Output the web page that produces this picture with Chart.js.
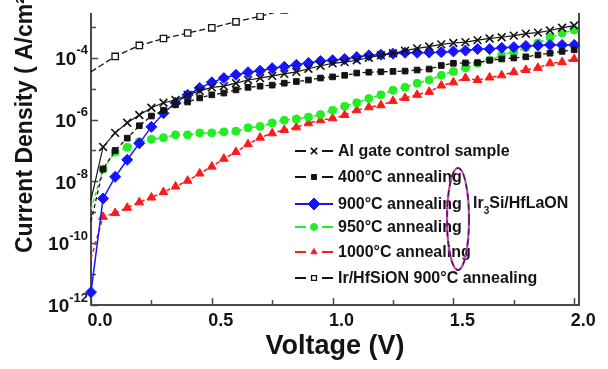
<!DOCTYPE html>
<html>
<head>
<meta charset="utf-8">
<title>Current density vs voltage</title>
<script src="https://cdn.jsdelivr.net/npm/chart.js@4.4.1/dist/chart.umd.min.js"></script>
<style>
  html, body { margin: 0; padding: 0; background: #fff; }
  #wrap { width: 608px; height: 369px; }
</style>
</head>
<body>
<div id="wrap"><canvas id="jv" width="608" height="369"></canvas></div>
<script>
// ─── Data (J in A/cm², V in volts) ──────────────────────────

const voltage = [
  0, 0.05, 0.1, 0.15, 0.2, 0.25, 0.3, 0.35, 0.4, 0.45,
  0.5, 0.55, 0.6, 0.65, 0.7, 0.75, 0.8, 0.85, 0.9, 0.95,
  1.0, 1.05, 1.1, 1.15, 1.2, 1.25, 1.3, 1.35, 1.4, 1.45,
  1.5, 1.55, 1.6, 1.65, 1.7, 1.75, 1.8, 1.85, 1.9, 1.95, 2.0,
];
const voltageIr = [0, 0.1, 0.2, 0.3, 0.4, 0.5, 0.6, 0.7, 0.8, 0.9];

const alGate = [
  2.5e-9, 1.3e-7, 3.7e-7, 7.9e-7, 1.4e-6, 2.4e-6, 3.5e-6, 4.3e-6, 6.3e-6, 8.5e-6,
  1.1e-5, 1.2e-5, 1.5e-5, 1.9e-5, 2.2e-5, 2.6e-5, 3.0e-5, 3.5e-5, 4.4e-5, 5.5e-5,
  6.6e-5, 7.2e-5, 8.3e-5, 1.0e-4, 1.2e-4, 1.4e-4, 1.7e-4, 2.0e-4, 2.3e-4, 2.7e-4,
  3.0e-4, 3.2e-4, 3.7e-4, 4.2e-4, 4.6e-4, 5.2e-4, 6.0e-4, 6.5e-4, 7.6e-4, 9.3e-4, 1.1e-3,
];
const anneal400 = [
  5.0e-10, 2.5e-8, 1.0e-7, 2.5e-7, 6.3e-7, 1.3e-6, 2.0e-6, 3.0e-6, 3.7e-6, 5.0e-6,
  6.3e-6, 7.2e-6, 9.1e-6, 1.1e-5, 1.2e-5, 1.3e-5, 1.5e-5, 1.7e-5, 1.9e-5, 2.2e-5,
  2.4e-5, 2.7e-5, 3.2e-5, 3.4e-5, 3.5e-5, 3.6e-5, 3.7e-5, 4.0e-5, 4.3e-5, 5.6e-5,
  6.6e-5, 6.8e-5, 6.9e-5, 8.3e-5, 9.1e-5, 9.8e-5, 1.07e-4, 1.23e-4, 1.4e-4, 1.6e-4, 1.8e-4,
];
const anneal900 = [
  2.6e-12, 2.8e-9, 1.4e-8, 5.0e-8, 1.7e-7, 5.8e-7, 1.6e-6, 3.5e-6, 6.3e-6, 1.05e-5,
  1.6e-5, 2.2e-5, 2.8e-5, 3.4e-5, 3.8e-5, 4.6e-5, 5.1e-5, 5.9e-5, 6.8e-5, 7.8e-5,
  8.3e-5, 9.1e-5, 1.05e-4, 1.2e-4, 1.26e-4, 1.35e-4, 1.45e-4, 1.45e-4, 1.48e-4, 1.5e-4,
  1.6e-4, 1.7e-4, 1.9e-4, 1.9e-4, 2.1e-4, 2.2e-4, 2.4e-4, 2.5e-4, 2.6e-4, 2.6e-4, 2.6e-4,
];
const anneal950 = [
  1.26e-9, 2.5e-8, 8.9e-8, 1.26e-7, 1.9e-7, 2.3e-7, 2.6e-7, 3.2e-7, 3.2e-7, 3.7e-7,
  3.7e-7, 4.0e-7, 4.2e-7, 5.4e-7, 6.0e-7, 7.8e-7, 9.5e-7, 1.05e-6, 1.2e-6, 1.45e-6,
  2.0e-6, 2.7e-6, 3.5e-6, 4.8e-6, 6.3e-6, 8.9e-6, 1.1e-5, 1.5e-5, 1.9e-5, 2.7e-5,
  3.6e-5, 4.7e-5, 6.6e-5, 8.5e-5, 1.2e-4, 1.55e-4, 2.1e-4, 3.0e-4, 4.5e-4, 6.3e-4, 7.9e-4,
];
const anneal1000 = [
  3.2e-11, 7.1e-10, 9.5e-10, 1.4e-9, 2.1e-9, 3.0e-9, 4.5e-9, 6.8e-9, 1.05e-8, 1.8e-8,
  3.0e-8, 5.4e-8, 8.9e-8, 1.6e-7, 2.6e-7, 3.6e-7, 4.6e-7, 5.6e-7, 7.6e-7, 9.5e-7,
  1.1e-6, 1.4e-6, 2.0e-6, 2.5e-6, 2.9e-6, 4.0e-6, 5.0e-6, 6.3e-6, 7.9e-6, 1.26e-5,
  1.6e-5, 2.2e-5, 1.9e-5, 2.3e-5, 2.7e-5, 3.4e-5, 4.0e-5, 4.7e-5, 6.6e-5, 7.2e-5, 9.1e-5,
];
const irHfSiON = [3.5e-5, 1.1e-4, 2.5e-4, 4.2e-4, 6.3e-4, 9.3e-4, 1.45e-3, 2.2e-3, 3.5e-3, 5.0e-3];

// Axis ticks
const xTicks = [0, 0.5, 1.0, 1.5, 2.0];
const xMinorTicks = [0.25, 0.75, 1.25, 1.75];
const yTicks = [1e-12, 1e-10, 1e-8, 1e-6, 1e-4];
const yTickExponents = ['-12', '-10', '-8', '-6', '-4'];
const yMinorTicks = [1e-11, 1e-9, 1e-7, 1e-5, 1e-3];

// ─── Styles ─────────────────────────────────────────────────

const FONT = '"Liberation Sans", Arial, Helvetica, sans-serif';
const BLUE = '#1414ff';
const GREEN = '#22ee22';
const RED = '#ff1a1a';
const INK = '#141414';

function series(xs, ys) {
  return xs.map((v, i) => ({ x: v, y: ys[i] }));
}

// marker hidden on the 0 V point, where the traces pile up on the axis
function hideFirst(r) {
  return ctx => (ctx.dataIndex === 0 ? 0 : r);
}

const datasets = [
  {
    label: 'Al gate control sample',
    data: series(voltage, alGate),
    borderColor: INK, borderWidth: 1.2,
    pointStyle: 'crossRot', pointRadius: hideFirst(5.5), pointBorderWidth: 1.6,
    pointBorderColor: INK, pointBackgroundColor: INK,
  },
  {
    label: '400°C annealing',
    data: series(voltage, anneal400),
    borderColor: INK, borderWidth: 1.3, borderDash: [4, 3],
    pointStyle: 'rect', pointRadius: hideFirst(4), pointBorderWidth: 1,
    pointBorderColor: INK, pointBackgroundColor: INK,
  },
  {
    label: '900°C annealing',
    data: series(voltage, anneal900),
    borderColor: BLUE, borderWidth: 1.5,
    pointStyle: 'rectRot', pointRadius: 5.5, pointBorderWidth: 1,
    pointBorderColor: BLUE, pointBackgroundColor: BLUE,
  },
  {
    label: '950°C annealing',
    data: series(voltage, anneal950),
    borderColor: GREEN, borderWidth: 1.5, borderDash: [4, 3],
    pointStyle: 'circle', pointRadius: hideFirst(4), pointBorderWidth: 1,
    pointBorderColor: GREEN, pointBackgroundColor: GREEN,
  },
  {
    label: '1000°C annealing',
    data: series(voltage, anneal1000),
    borderColor: RED, borderWidth: 1.5, borderDash: [4, 3],
    pointStyle: 'triangle', pointRadius: hideFirst(5), pointBorderWidth: 1,
    pointBorderColor: RED, pointBackgroundColor: RED,
  },
  {
    label: 'Ir/HfSiON 900°C annealing',
    data: series(voltageIr, irHfSiON),
    borderColor: INK, borderWidth: 1.3, borderDash: [6, 3],
    pointStyle: 'rect', pointRadius: hideFirst(4.5), pointBorderWidth: 1.3,
    pointBorderColor: INK, pointBackgroundColor: '#ffffff',
    clip: { left: 12, top: 0, right: 12, bottom: 12 },
  },
];
datasets.forEach(d => {
  d.tension = 0;
  if (!d.clip) d.clip = false;
});

// ─── Frame, ticks and labels ────────────────────────────────

const framePlugin = {
  id: 'frame',
  beforeDatasetsDraw(chart) {
    const { ctx, chartArea: a, scales: { x, y } } = chart;
    ctx.save();
    ctx.strokeStyle = '#4a4a4a';
    ctx.lineWidth = 2;
    ctx.beginPath();
    ctx.moveTo(a.left, a.top);
    ctx.lineTo(a.left, a.bottom);
    ctx.lineTo(a.right, a.bottom);
    ctx.lineTo(a.right, a.top);
    ctx.stroke();

    ctx.lineWidth = 1.5;
    ctx.beginPath();
    xTicks.forEach(v => {
      const px = Math.round(x.getPixelForValue(v)) + 0.5;
      ctx.moveTo(px, a.bottom); ctx.lineTo(px, a.bottom - 7);
    });
    xMinorTicks.forEach(v => {
      const px = Math.round(x.getPixelForValue(v)) + 0.5;
      ctx.moveTo(px, a.bottom); ctx.lineTo(px, a.bottom - 5);
    });
    yTicks.forEach(v => {
      const py = Math.round(y.getPixelForValue(v)) + 0.5;
      ctx.moveTo(a.left, py); ctx.lineTo(a.left + 7, py);
    });
    yMinorTicks.forEach(v => {
      const py = Math.round(y.getPixelForValue(v)) + 0.5;
      ctx.moveTo(a.left, py); ctx.lineTo(a.left + 5, py);
    });
    ctx.stroke();
    ctx.restore();
  },
  afterDraw(chart) {
    const { ctx, chartArea: a, scales: { y } } = chart;
    ctx.save();
    ctx.fillStyle = INK;

    // y tick labels as 10 with a raised exponent
    ctx.textAlign = 'right';
    ctx.textBaseline = 'middle';
    yTicks.forEach((v, i) => {
      const py = y.getPixelForValue(v);
      const right = a.left - 3;
      ctx.font = `bold 13px ${FONT}`;
      const ew = ctx.measureText(yTickExponents[i]).width;
      ctx.fillText(yTickExponents[i], right, py - 7);
      ctx.font = `bold 19px ${FONT}`;
      ctx.fillText('10', right - ew, py + 2);
    });

    // axis titles
    ctx.font = `bold 27px ${FONT}`;
    ctx.textAlign = 'center';
    ctx.fillText('Voltage (V)', 335, 347);

    ctx.save();
    ctx.translate(26, 253);
    ctx.rotate(-Math.PI / 2);
    ctx.textAlign = 'left';
    ctx.font = `bold 23px ${FONT}`;
    ctx.fillText('Current Density ( A/cm²)', 0, 0);
    ctx.restore();

    drawLegend(chart);
    ctx.restore();
  },
};

// ─── Legend ─────────────────────────────────────────────────

const legendRows = [151, 177, 204, 227, 252, 278];

function drawLegend(chart) {
  const { ctx } = chart;
  const x0 = 295, x1 = 333, xm = 314;
  chart.data.datasets.forEach((d, i) => {
    const y = legendRows[i];
    ctx.save();
    ctx.strokeStyle = d.borderColor;
    ctx.lineWidth = 1.8;
    ctx.beginPath();
    if (d.borderColor === BLUE) {
      ctx.moveTo(x0, y); ctx.lineTo(x1, y);
    } else {
      ctx.moveTo(x0, y); ctx.lineTo(x0 + 11, y);
      ctx.moveTo(x1 - 11, y); ctx.lineTo(x1, y);
    }
    ctx.stroke();
    ctx.restore();

    const r = d.pointStyle === 'crossRot' ? 4.5 : d.pointStyle === 'rectRot' ? 6 : 3.5;
    ctx.save();
    ctx.fillStyle = d.pointBackgroundColor;
    ctx.strokeStyle = d.pointBorderColor;
    ctx.lineWidth = d.pointBorderWidth;
    Chart.helpers.drawPoint(ctx, {
      pointStyle: d.pointStyle, radius: r, rotation: 0,
      borderWidth: d.pointBorderWidth,
    }, xm, y);
    ctx.restore();

    ctx.save();
    ctx.fillStyle = INK;
    ctx.font = `bold 16px ${FONT}`;
    ctx.textAlign = 'left';
    ctx.textBaseline = 'middle';
    ctx.fillText(d.label, 338, y + 1);
    ctx.restore();
  });

  // group marker: dashed ellipse round the Ir3Si/HfLaON entries
  ctx.save();
  ctx.beginPath();
  ctx.ellipse(458, 219, 11, 51, 0, 0, Math.PI * 2);
  ctx.strokeStyle = '#d040d0';
  ctx.lineWidth = 2.2;
  ctx.stroke();
  ctx.setLineDash([6, 4]);
  ctx.strokeStyle = '#2a2a2a';
  ctx.lineWidth = 1.4;
  ctx.stroke();
  ctx.restore();

  ctx.save();
  ctx.fillStyle = INK;
  ctx.textBaseline = 'middle';
  ctx.textAlign = 'left';
  ctx.font = `bold 16px ${FONT}`;
  ctx.fillText('Ir', 473, 204);
  const w1 = ctx.measureText('Ir').width;
  ctx.font = `bold 10px ${FONT}`;
  ctx.fillText('3', 473 + w1, 211);
  const w2 = ctx.measureText('3').width;
  ctx.font = `bold 16px ${FONT}`;
  ctx.fillText('Si/HfLaON', 473 + w1 + w2, 204);
  ctx.restore();
}

// ─── Chart ──────────────────────────────────────────────────

new Chart(document.getElementById('jv'), {
  type: 'line',
  data: { datasets },
  options: {
    responsive: false,
    animation: false,
    events: [],
    layout: { padding: { left: 0, right: 29, top: 13, bottom: 0 } },
    plugins: {
      legend: { display: false },
      tooltip: { enabled: false },
    },
    scales: {
      x: {
        type: 'linear',
        min: 0,
        max: 2.02,
        afterBuildTicks: s => { s.ticks = xTicks.map(v => ({ value: v })); },
        afterFit: s => { s.height = 64; },
        grid: { display: false, drawTicks: false },
        border: { display: false },
        ticks: {
          callback: v => v.toFixed(1),
          labelOffset: 9,
          padding: 5,
          maxRotation: 0,
          autoSkip: false,
          color: INK,
          font: { family: FONT, size: 18, weight: 'bold' },
        },
      },
      y: {
        type: 'logarithmic',
        min: 1e-12,
        max: 2.8e-3,
        afterFit: s => { s.width = 91; },
        grid: { display: false, drawTicks: false },
        border: { display: false },
        ticks: { display: false },
      },
    },
  },
  plugins: [framePlugin],
});
</script>
</body>
</html>
